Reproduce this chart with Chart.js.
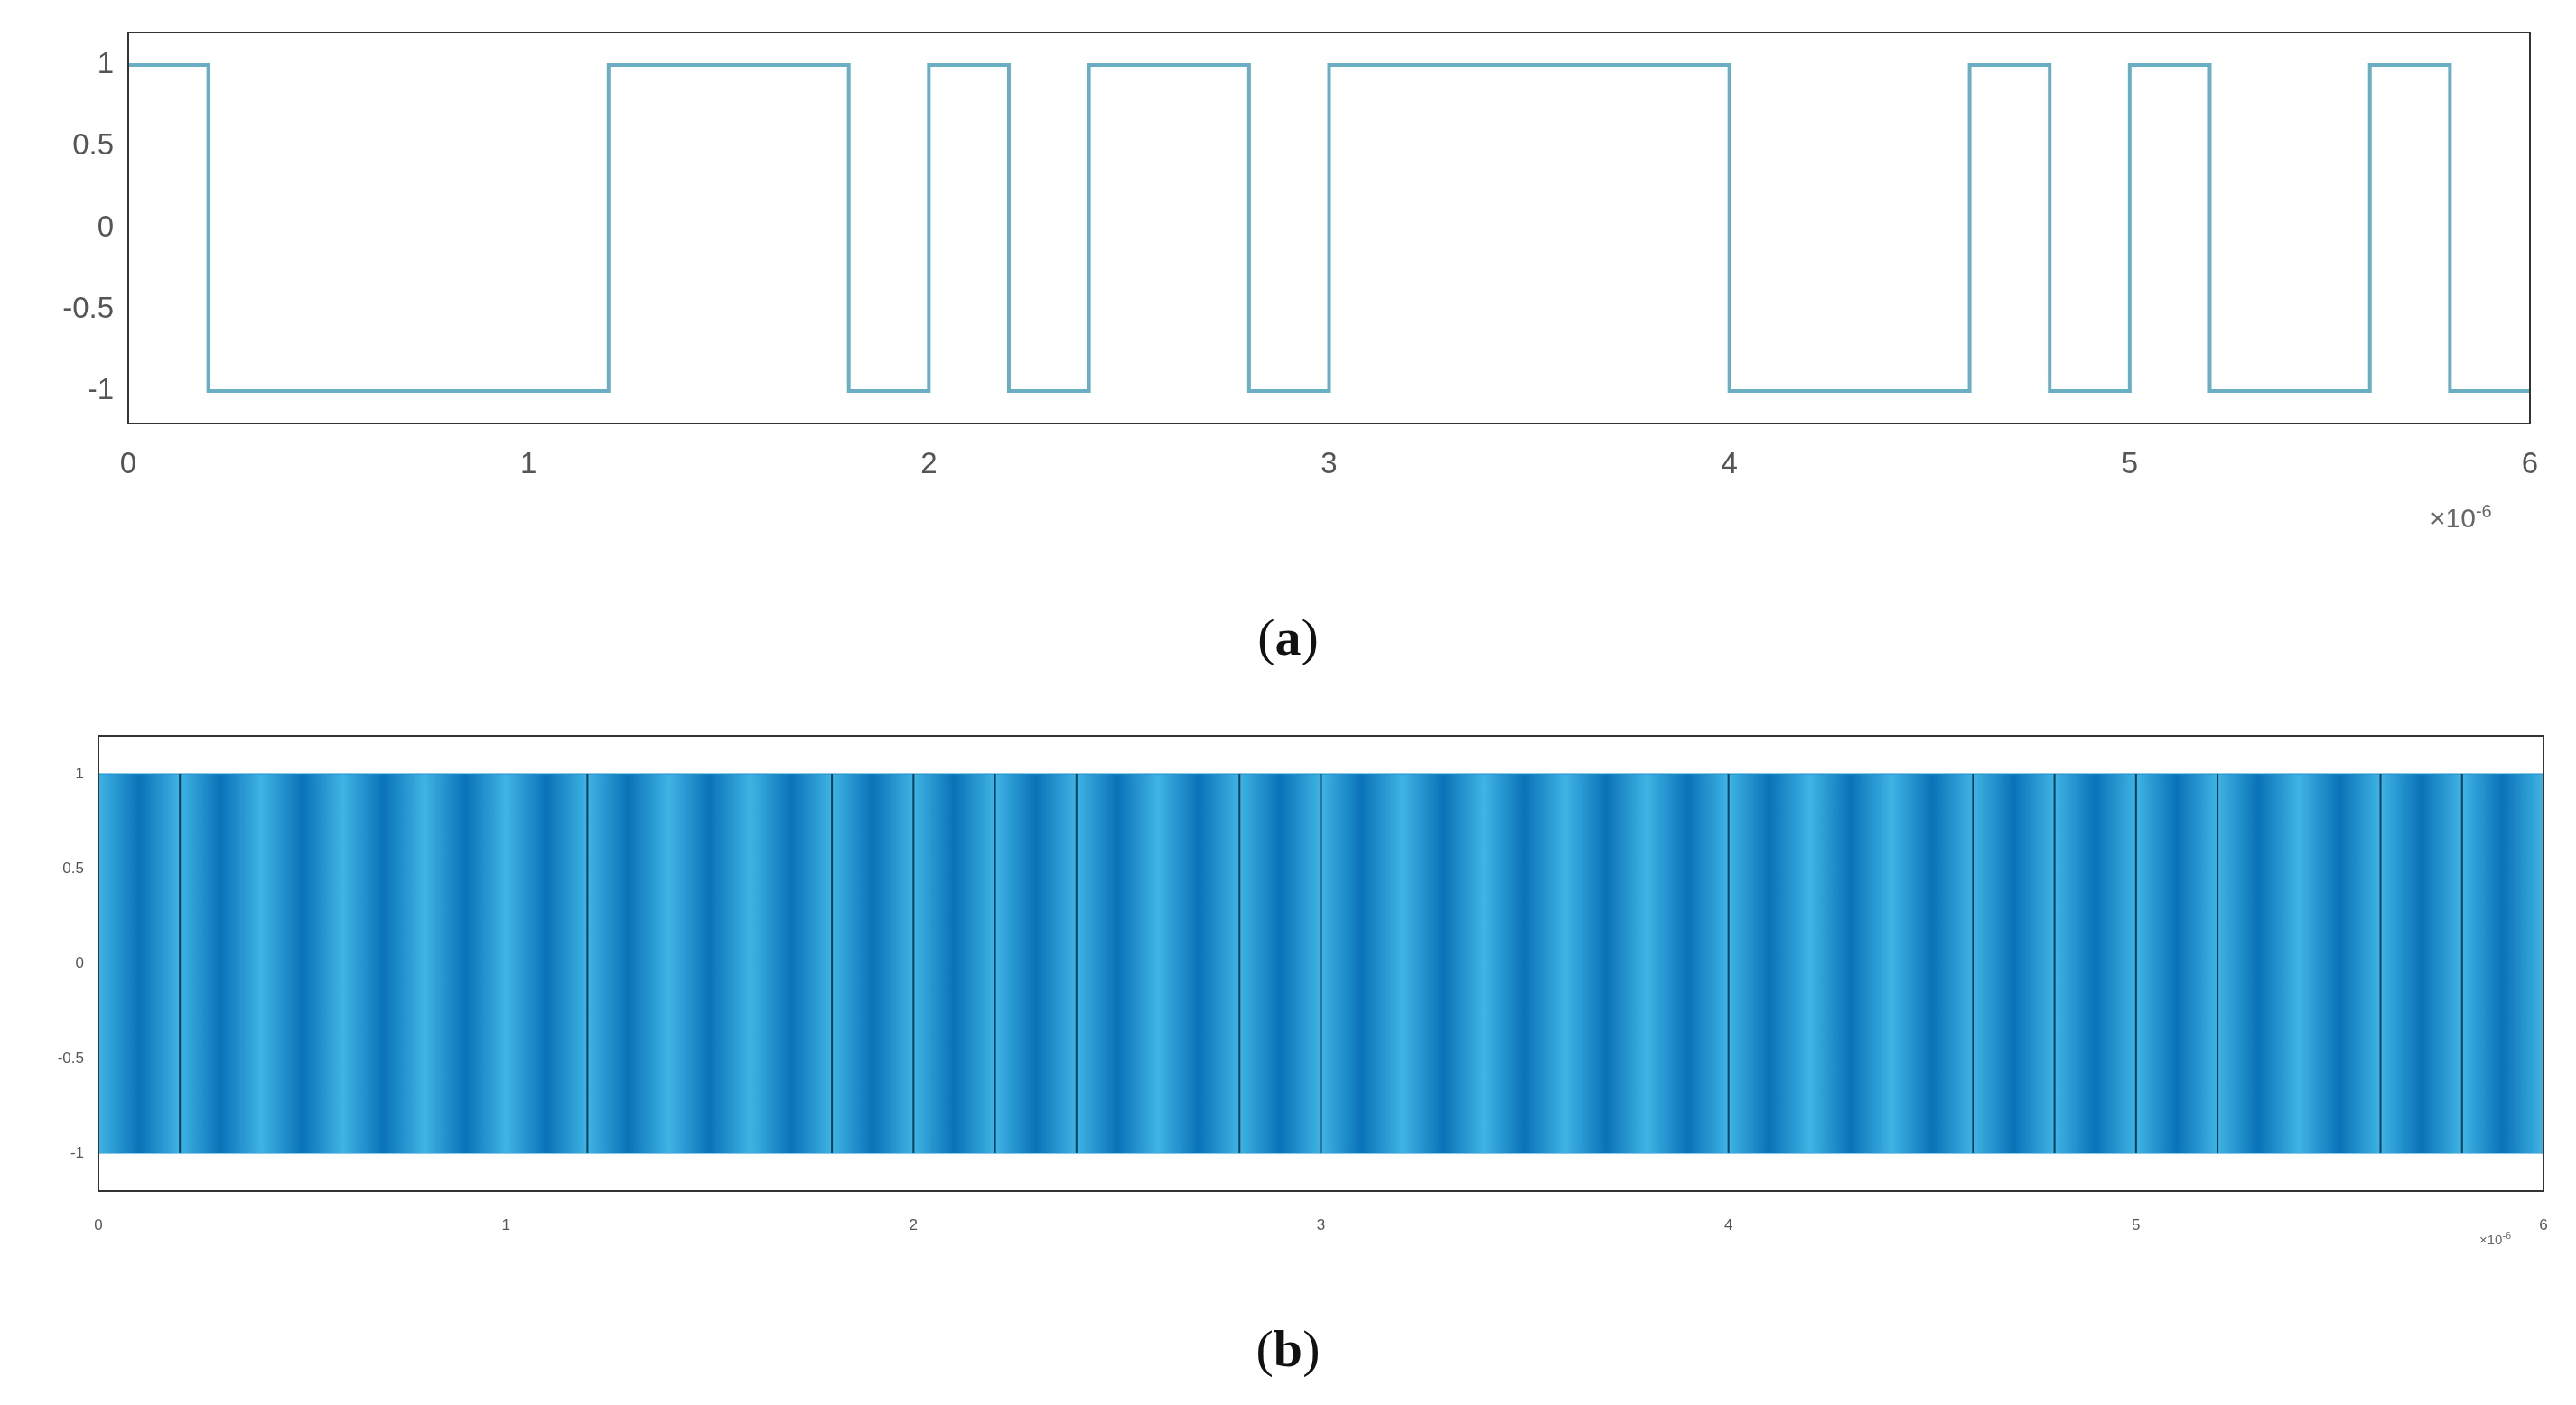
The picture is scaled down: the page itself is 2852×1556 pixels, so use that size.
<!DOCTYPE html>
<html><head><meta charset="utf-8">
<script src="https://cdn.jsdelivr.net/npm/chart.js@4/dist/chart.umd.min.js"></script>
<style>
body{margin:0;background:#fff;width:2852px;height:1556px;position:relative;overflow:hidden;font-family:"Liberation Serif",serif}
canvas{position:absolute;left:0}
.lab{position:absolute;font-size:58px;color:#111;width:2852px;text-align:center;left:0px}
.exp{position:absolute;font-family:"Liberation Sans",sans-serif;color:#666}
</style></head><body>
<div style="position:absolute;left:0;top:0;width:2852px;height:600px"><canvas id="a"></canvas></div>
<div style="position:absolute;left:0;top:780px;width:2852px;height:640px"><canvas id="b"></canvas></div>
<div class="lab" style="top:672px">(<b>a</b>)</div>
<div class="lab" style="top:1460px">(<b>b</b>)</div>
<div class="exp" style="left:2690px;top:555px;font-size:30px">×10<sup style="font-size:20px">-6</sup></div>
<div class="exp" style="left:2745px;top:1362px;font-size:15px">×10<sup style="font-size:11px">-6</sup></div>
<script>
// data
const bitPeriod = 0.2; // ×10^-6 s
const bits = [1,-1,-1,-1,-1,-1,1,1,1,-1,1,-1,1,1,-1,1,1,1,1,1,-1,-1,-1,1,-1,1,-1,-1,1,-1];
const xTicks = [0,1,2,3,4,5,6];
const yTicks = [-1,-0.5,0,0.5,1];
const yTickLabels = {"-1":"-1","-0.5":"-0.5","0":"0","0.5":"0.5","1":"1"};

const stepPts = bits.map((b,i)=>({x:i*bitPeriod,y:b}));
stepPts.push({x:bits.length*bitPeriod,y:bits[bits.length-1]});

const boxPlugin = {id:'box',afterDraw(c){const a=c.chartArea,x=c.ctx;x.save();x.strokeStyle='#333';x.lineWidth=2;x.strokeRect(a.left,a.top,a.right-a.left,a.bottom-a.top);x.restore();}};

function scales(fs,ylw,xh,pad){
  return {
    x:{type:'linear',min:0,max:6,afterBuildTicks(s){s.ticks=xTicks.map(v=>({value:v}));},
       afterFit(s){s.height=xh;},grid:{display:false},border:{display:false},
       ticks:{color:'#555',font:{size:fs,family:'Liberation Sans'},padding:pad,maxRotation:0,callback:v=>String(v)}},
    y:{min:-1.2,max:1.2,afterBuildTicks(s){s.ticks=yTicks.map(v=>({value:v}));},
       afterFit(s){s.width=ylw;},grid:{display:false},border:{display:false},
       ticks:{color:'#555',font:{size:fs,family:'Liberation Sans'},padding:8,callback:v=>yTickLabels[String(v)]}}
  };
}

new Chart(document.getElementById('a'),{type:'line',
 data:{datasets:[{data:stepPts,stepped:'before',borderColor:'#6aaec4',borderWidth:4,pointRadius:0,fill:false}]},
 options:{responsive:true,maintainAspectRatio:false,animation:false,
  layout:{padding:{top:36,right:51,left:0,bottom:0}},
  plugins:{legend:{display:false},tooltip:{enabled:false}},
  scales:scales(33,142,131,18)},plugins:[boxPlugin]});

// panel b: modulated signal envelope
const upper = [{x:0,y:1},{x:6,y:1}];
const lower = [{x:0,y:-1},{x:6,y:-1}];
function stripe(ctx){
  const c=ctx.chart,a=c.chartArea; if(!a) return '#1a8fd0';
  const g=c.ctx.createLinearGradient(a.left,0,a.right,0);
  const n=60;
  for(let i=0;i<=n;i++){
    g.addColorStop(i/n, i%2? '#0a72b8' : '#3fb4e4');
  }
  return g;
}
const transPlugin={id:'trans',afterDatasetsDraw(c){
  const x=c.scales.x,y=c.scales.y,ctx=c.ctx;ctx.save();ctx.lineWidth=2;ctx.strokeStyle='#0b3d5c';
  for(let i=1;i<bits.length;i++){ if(bits[i]!==bits[i-1]){const px=x.getPixelForValue(i*bitPeriod);ctx.beginPath();ctx.moveTo(px,y.getPixelForValue(1));ctx.lineTo(px,y.getPixelForValue(-1));ctx.stroke();}}
  ctx.restore();}};
new Chart(document.getElementById('b'),{type:'line',
 data:{datasets:[
  {data:upper,borderColor:'#1a8fd0',borderWidth:1,pointRadius:0,fill:'+1',backgroundColor:stripe},
  {data:lower,borderColor:'#1a8fd0',borderWidth:1,pointRadius:0,fill:false}]},
 options:{responsive:true,maintainAspectRatio:false,animation:false,
  layout:{padding:{top:35,right:36,left:0,bottom:0}},
  plugins:{legend:{display:false},tooltip:{enabled:false}},
  scales:scales(17,109,101,20)},plugins:[boxPlugin,transPlugin]});
</script></body></html>
